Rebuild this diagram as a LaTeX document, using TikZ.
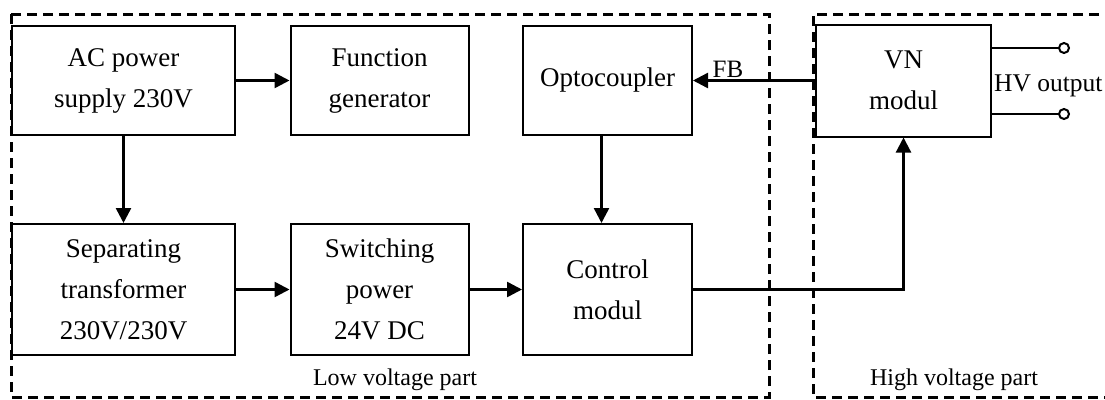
\documentclass[tikz,border=0pt]{standalone}
\usepackage{fontspec}
\setmainfont{Liberation Serif}
\usetikzlibrary{arrows.meta,calc}
\begin{document}
\begin{tikzpicture}[x=1pt,y=-1pt,
  blk/.style={draw, line width=2pt, rectangle, inner sep=0pt, align=center,
    font=\fontsize{27}{41}\selectfont},
  arr/.style={line width=2.5pt, -{Triangle[length=15pt,width=15pt]}},
  wire/.style={line width=2.2pt},
  zone/.style={line width=3pt, dash pattern=on 10pt off 6pt},
  lbl/.style={font=\fontsize{24}{28}\selectfont, inner sep=0pt},
  term/.style={circle, draw, line width=2pt, fill=white, minimum size=10pt, inner sep=0pt}]
\useasboundingbox (0,0) rectangle (1105,399);
% zones
\draw[zone] (11,14) rectangle (769,397);
\draw[zone] (1115,14) -| (813,397) -- (1115,397);
% blocks
\node[blk, minimum width=223pt, minimum height=109pt] (ac) at (123.5,80.5) {AC power\\supply 230V};
\node[blk, minimum width=178pt, minimum height=109pt] (fg) at (379.5,80.5) {Function\\generator};
\node[blk, minimum width=169pt, minimum height=109pt] (opto) at (607.5,80.5) {Optocoupler};
\node[blk, minimum width=175pt, minimum height=112pt] (vn) at (903.5,80.5) {VN\\modul};
\node[blk, minimum width=223pt, minimum height=131pt] (sep) at (123.5,289.5) {Separating\\transformer\\230V/230V};
\node[blk, minimum width=178pt, minimum height=131pt] (sw) at (379.5,289.5) {Switching\\power\\24V DC};
\node[blk, minimum width=169pt, minimum height=131pt] (ctrl) at (607.5,289.5) {Control\\modul};
% connectors
\draw[arr] (ac) -- (fg);
\draw[arr] (ac) -- (sep);
\draw[arr] (sep) -- (sw);
\draw[arr] (sw) -- (ctrl);
\draw[arr] ($(opto.south)+(-6,0)$) -- ($(ctrl.north)+(-6,0)$);
\draw[arr] (vn) -- (opto);
\node[lbl, anchor=base, font=\fontsize{25}{28}\selectfont] (fb) at (728,77) {FB};
\draw[wire, -{Triangle[length=15pt,width=15pt]}] (ctrl.east) -| (vn.south);
% HV output
\node[term] (t1) at (1064,48) {};
\node[term] (t2) at (1064,114) {};
\draw[wire] (vn.east |- t1) -- (t1.west);
\draw[wire] (vn.east |- t2) -- (t2.west);
\node[anchor=base west, inner sep=0pt, font=\fontsize{25.5}{30}\selectfont] (hv) at (994,91) {HV output};
% zone labels
\node[lbl] (lv) at (395,380) {Low voltage part};
\node[lbl] (hvp) at (954,380) {High voltage part};
\end{tikzpicture}
\end{document}
